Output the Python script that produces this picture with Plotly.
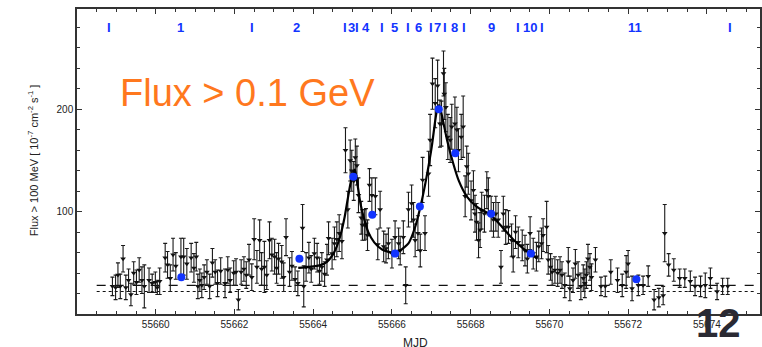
import plotly.graph_objects as go

# Light curve: flux above 100 MeV, in units of 1e-7 ph cm^-2 s^-1
mjd = [
    55658.90, 55658.98, 55659.04, 55659.10, 55659.17, 55659.24, 55659.31, 55659.37, 55659.44, 55659.51,
    55659.58, 55659.65, 55659.71, 55659.83, 55659.91, 55659.99, 55660.04, 55660.10, 55660.24, 55660.30,
    55660.37, 55660.44, 55660.51, 55660.64, 55660.71, 55660.79, 55660.90, 55660.97, 55661.03, 55661.07,
    55661.12, 55661.17, 55661.23, 55661.30, 55661.37, 55661.44, 55661.51, 55661.57, 55661.65, 55661.76,
    55661.83, 55661.89, 55661.98, 55662.04, 55662.10, 55662.17, 55662.24, 55662.30, 55662.37, 55662.44,
    55662.50, 55662.57, 55662.64, 55662.69, 55662.76, 55662.82, 55662.89, 55662.95, 55663.02, 55663.07,
    55663.12, 55663.20, 55663.25, 55663.31, 55663.40, 55663.46, 55663.54, 55663.61, 55663.73, 55663.76,
    55663.82, 55663.89, 55663.95, 55664.03, 55664.10, 55664.16, 55664.22, 55664.29, 55664.35, 55664.39,
    55664.48, 55664.54, 55664.60, 55664.66, 55664.73, 55664.82, 55664.88, 55664.94, 55664.98, 55665.03,
    55665.07, 55665.11, 55665.15, 55665.22, 55665.25, 55665.30, 55665.34, 55665.38, 55665.43, 55665.49,
    55665.58, 55665.64, 55665.70, 55665.79, 55665.85, 55665.91, 55666.00, 55666.08, 55666.17, 55666.21,
    55666.29, 55666.35, 55666.42, 55666.50, 55666.55, 55666.59, 55666.66, 55666.72, 55666.78, 55666.84,
    55666.93, 55666.97, 55667.03, 55667.10, 55667.16, 55667.22, 55667.26, 55667.31, 55667.33, 55667.37,
    55667.42, 55667.48, 55667.52, 55667.60, 55667.65, 55667.69, 55667.76, 55667.81, 55667.86, 55667.90,
    55667.94, 55668.01, 55668.07, 55668.11, 55668.15, 55668.20, 55668.24, 55668.28, 55668.35, 55668.41,
    55668.45, 55668.52, 55668.58, 55668.64, 55668.70, 55668.77, 55668.83, 55668.89, 55668.96, 55669.04,
    55669.08, 55669.14, 55669.21, 55669.31, 55669.38, 55669.44, 55669.51, 55669.59, 55669.67, 55669.73,
    55669.80, 55669.84, 55669.93, 55669.97, 55670.03, 55670.07, 55670.14, 55670.21, 55670.27, 55670.32,
    55670.39, 55670.48, 55670.52, 55670.60, 55670.66, 55670.73, 55670.80, 55670.86, 55670.90, 55670.94,
    55670.98, 55671.03, 55671.07, 55671.17, 55671.31, 55671.42, 55671.56, 55671.73, 55671.85, 55671.95,
    55672.00, 55672.10, 55672.26, 55672.38, 55672.51, 55672.66, 55672.78, 55672.89, 55672.93, 55673.03,
    55673.16, 55673.31, 55673.44, 55673.58, 55673.70, 55673.84, 55673.96, 55674.09, 55674.26, 55674.40,
    55674.53,
]
flux = [
    27, 26, 38, 27, 54, 26, 33, 19, 40, 31,
    43, 33, 27, 33, 30, 31, 26, 32, 55, 48,
    35, 58, 47, 56, 56, 49, 55, 45, 56, 27,
    33, 28, 36, 41, 27, 50, 41, 30, 42, 30,
    43, 33, 40, 41, 14, 41, 44, 38, 53, 36,
    73, 46, 72, 44, 46, 38, 72, 58, 56, 45,
    54, 51, 36, 75, 41, 47, 34, 30, 84, 27,
    46, 55, 44, 59, 55, 42, 46, 39, 53, 74,
    59, 69, 73, 79, 71, 160, 102, 150, 140, 130,
    153, 145, 116, 94, 87, 87, 88, 77, 126, 116,
    115, 68, 102, 66, 64, 69, 59, 75, 69, 62,
    75, 28, 102, 108, 92, 72, 79, 62, 131, 79,
    137, 170, 225, 206, 223, 186, 186, 235, 215, 202,
    173, 170, 183, 186, 180, 160, 173, 183, 115, 144,
    137, 111, 121, 98, 90, 72, 82, 101, 98, 121,
    115, 98, 92, 98, 92, 46, 98, 85, 85, 72,
    56, 80, 70, 67, 62, 54, 79, 59, 56, 66,
    69, 77, 85, 53, 46, 41, 43, 40, 43, 38,
    28, 51, 25, 33, 49, 38, 27, 35, 30, 38,
    54, 46, 36, 53, 27, 27, 41, 33, 28, 41,
    49, 25, 28, 28, 37, 14, 16, 18, 79, 48,
    43, 35, 35, 32, 27, 27, 28, 35, 22, 27,
    27,
]
flux_err = [
    9, 12, 12, 12, 13, 12, 11, 11, 11, 12,
    12, 13, 21, 12, 9, 10, 7, 13, 14, 13,
    13, 16, 13, 18, 18, 15, 14, 14, 14, 12,
    11, 12, 12, 12, 12, 14, 12, 13, 13, 14,
    13, 12, 12, 13, 10, 12, 12, 13, 15, 13,
    20, 16, 20, 16, 25, 14, 18, 16, 17, 15,
    15, 16, 14, 18, 14, 14, 12, 12, 23, 20,
    14, 15, 13, 15, 14, 13, 14, 12, 15, 16,
    15, 16, 17, 18, 17, 22, 18, 20, 20, 19,
    18, 19, 17, 16, 15, 15, 15, 15, 16, 17,
    18, 15, 18, 15, 14, 15, 14, 16, 15, 14,
    16, 18, 17, 18, 17, 16, 17, 16, 22, 17,
    22, 25, 25, 24, 25, 23, 22, 22, 25, 24,
    22, 22, 22, 26, 22, 21, 22, 30, 20, 20,
    20, 19, 19, 18, 18, 17, 17, 18, 18, 18,
    18, 17, 17, 17, 17, 16, 17, 17, 16, 16,
    15, 16, 15, 15, 15, 14, 16, 15, 14, 15,
    15, 16, 25, 14, 13, 13, 13, 13, 13, 13,
    12, 14, 12, 12, 14, 13, 13, 13, 14, 13,
    14, 13, 13, 12, 9, 10, 12, 12, 11, 16,
    13, 12, 10, 9, 10, 10, 9, 9, 28, 11,
    11, 9, 9, 10, 9, 10, 12, 10, 8, 8,
    8,
]

# Period-averaged fluxes (blue points) and period labels along the top
period_mjd = [55660.65, 55663.65, 55665.02, 55665.50, 55666.08, 55666.71,
              55667.19, 55667.61, 55668.52, 55669.53, 55672.21]
period_flux = [36, 54, 134, 97, 59, 105, 200, 157, 98, 59, 34]

marker_text = ["I", "1", "I", "2", "I", "3", "I", "4", "I", "5", "I", "6",
               "I", "7", "I", "8", "I", "9", "I", "10", "I", "11", "I"]
marker_mjd = [55658.82, 55660.62, 55662.44, 55663.58, 55664.80, 55664.98,
              55665.10, 55665.33, 55665.76, 55666.07, 55666.40, 55666.67,
              55667.00, 55667.16, 55667.36, 55667.59, 55667.84, 55668.52,
              55669.21, 55669.51, 55669.82, 55672.18, 55674.59]

# Flare profile fit through the two outbursts
fit_mjd = [55663.62, 55663.90, 55664.20, 55664.35, 55664.50, 55664.60, 55664.70,
           55664.80, 55664.88, 55664.95, 55665.02, 55665.06, 55665.12, 55665.20,
           55665.30, 55665.40, 55665.55, 55665.75, 55666.00, 55666.20, 55666.42,
           55666.59, 55666.76, 55666.88, 55667.01, 55667.10, 55667.16, 55667.20,
           55667.28, 55667.40, 55667.55, 55667.70, 55667.90, 55668.15, 55668.50,
           55668.80, 55669.10, 55669.40, 55669.70]
fit_flux = [45, 46, 48, 51, 58, 66, 78, 95, 113, 128, 138, 141, 128, 108,
            92, 80, 70, 63, 60, 62, 69, 85, 111, 134, 163, 189, 202, 204,
            192, 170, 148, 130, 115, 105, 97, 85, 72, 62, 54]

# Quiescent reference levels (dashed / dotted) and their extent
baseline_levels = [28, 22]
baseline_dash = ["dash", "dot"]
baseline_span = [55658.5, 55675.2]

x_ticks = [55660, 55662, 55664, 55666, 55668, 55670, 55672, 55674]
y_ticks = [100, 200]

BLUE = "#1234ff"
FONT = "Liberation Sans, Arial, Helvetica, sans-serif"

fig = go.Figure()

for level, dash in zip(baseline_levels, baseline_dash):
    fig.add_trace(go.Scatter(
        x=baseline_span, y=[level, level], mode="lines",
        line=dict(color="#111111", width=1.1, dash=dash),
        hoverinfo="skip", showlegend=False))

fig.add_trace(go.Scatter(
    x=mjd, y=flux, mode="markers",
    marker=dict(symbol="triangle-down", size=5, color="#111111"),
    error_y=dict(type="data", array=flux_err, color="#1a1a1a",
                 thickness=1.1, width=2),
    showlegend=False))

fig.add_trace(go.Scatter(
    x=fit_mjd, y=fit_flux, mode="lines",
    line=dict(color="#000000", width=2.2, shape="spline", smoothing=0.6),
    showlegend=False))

fig.add_trace(go.Scatter(
    x=period_mjd, y=period_flux, mode="markers",
    marker=dict(symbol="circle", size=8, color=BLUE),
    showlegend=False))

for txt, xm in zip(marker_text, marker_mjd):
    fig.add_annotation(x=xm, xref="x", y=0.938, yref="paper", text=f"<b>{txt}</b>",
                       showarrow=False, xanchor="center", yanchor="middle",
                       font=dict(family=FONT, size=13, color=BLUE))

fig.add_annotation(x=0.249, xref="paper", y=0.724, yref="paper",
                   text="Flux > 0.1 GeV", showarrow=False,
                   xanchor="center", yanchor="middle",
                   font=dict(family=FONT, size=38, color="#ff781e"))

fig.add_annotation(x=-0.064, xref="paper", y=0.505, yref="paper",
                   text="Flux > 100 MeV [ 10<sup>-7</sup> cm<sup>-2</sup> s<sup>-1</sup> ]",
                   textangle=-90, showarrow=False,
                   xanchor="center", yanchor="middle",
                   font=dict(family=FONT, size=11, color="#222222"))

fig.add_annotation(x=0.495, xref="paper", y=-0.095, yref="paper",
                   text="MJD", showarrow=False,
                   xanchor="center", yanchor="middle",
                   font=dict(family=FONT, size=12, color="#222222"))

fig.add_annotation(x=0.939, xref="paper", y=-0.03, yref="paper",
                   text="<b>12</b>", showarrow=False,
                   xanchor="center", yanchor="middle",
                   font=dict(family=FONT, size=40, color="#2a2a33"))

axis_common = dict(
    showgrid=False, zeroline=False, showline=True, linecolor="#333333",
    linewidth=1.5, mirror="allticks", ticks="inside", tickcolor="#333333",
    tickfont=dict(family=FONT, size=10, color="#222222"),
)

fig.update_xaxes(range=[55658.0, 55675.35], tickvals=x_ticks, tickformat="d",
                 ticklen=5, tickwidth=1.2,
                 minor=dict(dtick=0.5, tick0=55658, ticks="inside",
                            ticklen=3, tickcolor="#333333"),
                 **axis_common)
fig.update_yaxes(range=[0, 298], tickvals=y_ticks, tickformat="d",
                 ticklen=5, tickwidth=1.2,
                 minor=dict(dtick=20, tick0=0, ticks="inside",
                            ticklen=3, tickcolor="#333333"),
                 **axis_common)

fig.update_layout(
    width=762, height=347,
    margin=dict(l=77, r=0, t=9, b=33),
    plot_bgcolor="white", paper_bgcolor="white",
    showlegend=False,
)

fig.write_html("out.html")
